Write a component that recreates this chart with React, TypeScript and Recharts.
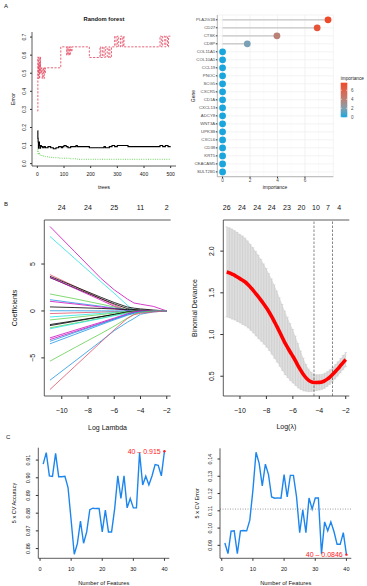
import React from "react";
import {
  LineChart,
  Line,
  XAxis,
  YAxis,
  ScatterChart,
  Scatter,
  ReferenceLine,
  CartesianGrid,
  ComposedChart,
  Area,
  ErrorBar,
  ReferenceDot,
} from "recharts";

const FONT = "'Liberation Sans', Arial, Helvetica, sans-serif";
const BOX = "#333";

// ---------------- Panel A (left): random forest error rates ----------------
const oobTrees = [1, 2, 3, 4, 5, 6, 7, 8, 10, 12, 15, 20, 25, 30, 40, 50, 60, 70, 80, 90, 95, 100, 108, 115, 125, 145, 150, 195, 250, 255, 270, 280, 290, 300, 340, 460, 470, 480, 490, 500];
const oobErr = [0.182, 0.14, 0.12, 0.085, 0.11, 0.1, 0.12, 0.1, 0.085, 0.1, 0.094, 0.088, 0.094, 0.088, 0.094, 0.088, 0.082, 0.088, 0.094, 0.088, 0.094, 0.1, 0.094, 0.088, 0.094, 0.1, 0.094, 0.088, 0.094, 0.088, 0.094, 0.1, 0.094, 0.1, 0.094, 0.1, 0.094, 0.1, 0.094, 0.094];
const class1Trees = [1, 2, 3, 4, 5, 6, 7, 8, 9, 10, 11, 12, 14, 16, 18, 20, 22, 24, 26, 28, 30, 88, 110, 112, 115, 118, 121, 124, 127, 130, 195, 235, 238, 245, 250, 255, 262, 268, 272, 278, 290, 295, 300, 305, 312, 318, 322, 325, 460, 465, 470, 478, 482, 488, 492, 500];
const class1Err = [0.29, 0.59, 0.47, 0.55, 0.5, 0.59, 0.53, 0.47, 0.56, 0.5, 0.59, 0.53, 0.5, 0.53, 0.47, 0.5, 0.53, 0.47, 0.53, 0.5, 0.53, 0.646, 0.6, 0.646, 0.6, 0.646, 0.6, 0.646, 0.62, 0.646, 0.587, 0.646, 0.587, 0.646, 0.587, 0.646, 0.587, 0.646, 0.587, 0.646, 0.705, 0.646, 0.705, 0.646, 0.705, 0.646, 0.705, 0.646, 0.705, 0.646, 0.705, 0.646, 0.705, 0.646, 0.705, 0.705];
const class2Trees = [1, 2, 3, 5, 8, 12, 20, 30, 45, 60, 80, 100, 120, 150, 500];
const class2Err = [0.067, 0.08, 0.05, 0.06, 0.048, 0.045, 0.042, 0.038, 0.035, 0.033, 0.03, 0.03, 0.027, 0.024, 0.024];
const rfXTicks = [0, 100, 200, 300, 400, 500];
const rfYTicks = [0, 0.1, 0.2, 0.3, 0.4, 0.5, 0.6, 0.7];

// ---------------- Panel A (right): gene importance ----------------
const genes = ["PLA2G1B", "CD27", "CTSK", "CD8P", "COL11A1", "COL10A1", "CCL19", "PNOC", "SCG5", "CXCR5", "CD1A", "CXCL13", "ADCY8", "WNT3A", "UPK3B", "CXCL6", "CD38", "KRT5", "CEACAM5", "SULT2B1"];
const importance = [7.68, 6.89, 3.96, 1.8, 0, 0, 0, 0, 0, 0, 0, 0, 0, 0, 0, 0, 0, 0, 0, 0];
const impTicks = [0, 2, 4, 6];
const impMinor = [1, 3, 5, 7];
const legendTicks = [6, 4, 2, 0];

// ---------------- Panel B (left): LASSO coefficient paths ----------------
const lassoLogLambda = [-10.9, -9, -7, -6, -5, -4.5, -4, -3, -2];
const coefPaths = [
  [9.0, 6.3, 3.45, 2.25, 1.27, 0.85, 0.72, 0.48, 0],
  [7.94, 5.58, 3.1, 1.88, 0.6, 0.05, 0, 0, 0],
  [3.87, 2.62, 1.3, 0.63, 0.05, 0, 0, 0, 0],
  [3.69, 2.6, 1.45, 0.9, 0.42, 0.3, 0.22, 0.1, 0],
  [3.55, 2.45, 1.3, 0.75, 0.25, 0.15, 0.1, 0.04, 0],
  [3.6, 2.4, 1.15, 0.5, 0.02, 0, 0, 0, 0],
  [1.81, 1.3, 0.72, 0.42, 0.12, 0.04, 0, 0, 0],
  [1.2, 0.85, 0.5, 0.3, 0.1, 0.02, 0, 0, 0],
  [1.03, 0.74, 0.42, 0.25, 0.06, 0, 0, 0, 0],
  [0.43, 0.36, 0.27, 0.21, 0.16, 0.12, 0.07, 0.03, 0],
  [-0.28, -0.2, -0.12, -0.07, -0.02, 0, 0, 0, 0],
  [0.02, 0.02, 0.01, 0.01, 0, 0, 0, 0, 0],
  [-0.64, -0.46, -0.26, -0.16, -0.06, -0.02, 0, 0, 0],
  [-0.96, -0.68, -0.38, -0.22, -0.06, 0, 0, 0, 0],
  [-1.45, -1.04, -0.6, -0.36, -0.13, -0.05, -0.02, 0, 0],
  [-1.56, -1.1, -0.62, -0.38, -0.1, -0.02, 0, 0, 0],
  [-1.8, -1.3, -0.76, -0.46, -0.16, -0.06, -0.02, 0, 0],
  [-1.9, -1.36, -0.8, -0.5, -0.25, -0.16, -0.1, -0.05, 0],
  [-2.87, -2.05, -1.2, -0.76, -0.3, -0.1, 0, 0, 0],
  [-3.05, -2.2, -1.3, -0.85, -0.36, -0.15, -0.03, 0, 0],
  [-3.23, -2.3, -1.36, -0.86, -0.4, -0.22, -0.1, -0.02, 0],
  [-3.5, -2.5, -1.46, -0.95, -0.46, -0.26, -0.15, -0.05, 0],
  [-5.35, -3.9, -2.4, -1.62, -0.76, -0.36, -0.15, 0, 0],
  [-7.38, -5.35, -3.2, -2.1, -1.2, -0.8, -0.35, -0.1, 0],
  [-8.37, -5.9, -3.3, -2.0, -0.8, -0.4, -0.25, -0.1, 0],
];
const pathColors = ["#CD0BBC", "#28E2E5", "#DF536B", "#000000", "#000000", "#CD0BBC", "#61D04F", "#2297E6", "#CD0BBC", "#000000", "#DF536B", "#2297E6", "#28E2E5", "#61D04F", "#000000", "#000000", "#61D04F", "#28E2E5", "#CD0BBC", "#CD0BBC", "#2297E6", "#2297E6", "#61D04F", "#2297E6", "#DF536B"];
const lassoTicks = [-10, -8, -6, -4, -2];
const lassoTopCounts = [24, 24, 25, 11, 2];
const coefTicks = [-5, 0, 5];

// ---------------- Panel B (right): CV binomial deviance ----------------
const devLogLambda = [-11.0, -10.8, -10.6, -10.4, -10.2, -10.0, -9.8, -9.6, -9.4, -9.2, -9.0, -8.8, -8.6, -8.4, -8.2, -8.0, -7.8, -7.6, -7.4, -7.2, -7.0, -6.8, -6.6, -6.4, -6.2, -6.0, -5.8, -5.6, -5.4, -5.2, -5.0, -4.8, -4.6, -4.4, -4.2, -4.0, -3.8, -3.6, -3.4, -3.2, -3.0, -2.8, -2.6, -2.4, -2.2, -2.0];
const devMean = [1.75, 1.74, 1.725, 1.71, 1.69, 1.67, 1.65, 1.63, 1.6, 1.565, 1.53, 1.49, 1.45, 1.41, 1.365, 1.32, 1.27, 1.215, 1.155, 1.095, 1.03, 0.965, 0.9, 0.845, 0.79, 0.74, 0.685, 0.625, 0.57, 0.52, 0.48, 0.45, 0.432, 0.425, 0.424, 0.426, 0.432, 0.445, 0.465, 0.49, 0.52, 0.553, 0.588, 0.626, 0.664, 0.7];
const devSE = [0.54, 0.54, 0.54, 0.535, 0.535, 0.53, 0.53, 0.525, 0.52, 0.515, 0.51, 0.505, 0.5, 0.49, 0.48, 0.47, 0.46, 0.45, 0.44, 0.425, 0.41, 0.395, 0.38, 0.36, 0.34, 0.32, 0.295, 0.265, 0.23, 0.195, 0.16, 0.135, 0.115, 0.1, 0.095, 0.092, 0.09, 0.09, 0.088, 0.087, 0.086, 0.085, 0.085, 0.085, 0.085, 0.085];
const devTopPos = [-11.0, -9.85, -8.7, -7.6, -6.45, -5.35, -4.25, -3.35, -2.5];
const devTopLabels = [26, 24, 24, 24, 23, 20, 10, 7, 4];
const lambdaMin = -4.4;
const lambda1se = -3.0;
const devYTicks = [0.5, 1.0, 1.5, 2.0];

// ---------------- Panel C: feature selection CV ----------------
const nFeatures = [1, 2, 3, 4, 5, 6, 7, 8, 9, 10, 11, 12, 13, 14, 15, 16, 17, 18, 19, 20, 21, 22, 23, 24, 25, 26, 27, 28, 29, 30, 31, 32, 33, 34, 35, 36, 37, 38, 39, 40];
const cvAccuracy = [0.9077, 0.9142, 0.9011, 0.9008, 0.9138, 0.9006, 0.9006, 0.9009, 0.8945, 0.876, 0.8568, 0.8628, 0.8755, 0.863, 0.8694, 0.882, 0.8828, 0.8826, 0.8826, 0.8694, 0.8817, 0.8694, 0.8694, 0.8826, 0.9011, 0.8883, 0.9011, 0.883, 0.8883, 0.883, 0.883, 0.9142, 0.8959, 0.9009, 0.896, 0.901, 0.9075, 0.907, 0.9011, 0.915];
const cvError = [0.0914, 0.0852, 0.0982, 0.0984, 0.0852, 0.0984, 0.0986, 0.0984, 0.1046, 0.122, 0.1439, 0.1375, 0.1244, 0.137, 0.131, 0.118, 0.1173, 0.1175, 0.1173, 0.131, 0.118, 0.1305, 0.1305, 0.118, 0.0974, 0.1106, 0.0974, 0.1174, 0.111, 0.1174, 0.1174, 0.0852, 0.1036, 0.0984, 0.1036, 0.098, 0.0906, 0.0906, 0.0974, 0.0846];
const bestAcc = { n: 40, value: 0.915 };
const bestErr = { n: 40, value: 0.0846 };
const errRefLine = 0.111;
const featTicks = [0, 10, 20, 30, 40];
const accTicks = [0.86, 0.87, 0.88, 0.89, 0.9, 0.91];
const errTicks = [0.09, 0.1, 0.11, 0.12, 0.13, 0.14];

// ---------------- helpers ----------------
const fmtNum = (d: number) => (v: number) => (v < 0 ? "\u2212" : "") + Math.abs(v).toFixed(d);

const RotYTick = (props: any) => {
  const { x, y, payload, fs, fmt, color } = props;
  return (
    <text x={x} y={y} transform={`rotate(-90 ${x} ${y})`} textAnchor="middle" fontSize={fs} fontFamily={FONT} fill={color || "#111"}>
      {fmt ? fmt(payload.value) : payload.value}
    </text>
  );
};

const impStops = [
  [0, [26, 166, 221]],
  [0.25, [127, 160, 178]],
  [0.5, [184, 131, 121]],
  [0.75, [219, 101, 80]],
  [1, [238, 74, 42]],
] as [number, number[]][];
const impMax = 7.68;
const impColor = (v: number) => {
  const t = Math.max(0, Math.min(1, v / impMax));
  for (let i = 0; i < impStops.length - 1; i++) {
    const [t0, c0] = impStops[i];
    const [t1, c1] = impStops[i + 1];
    if (t <= t1) {
      const f = (t - t0) / (t1 - t0);
      const c = c0.map((a, k) => Math.round(a + (c1[k] - a) * f));
      return `rgb(${c[0]},${c[1]},${c[2]})`;
    }
  }
  return "rgb(238,74,42)";
};

const boxAxes = (xdom: number[], withTop = true) => [
  withTop ? (
    <XAxis key="bt" xAxisId="top" orientation="top" type="number" domain={xdom} allowDataOverflow height={0} tick={false} tickLine={false} axisLine={{ stroke: BOX, strokeWidth: 0.8 }} />
  ) : null,
  <YAxis key="br" yAxisId="right" orientation="right" type="number" domain={[0, 1]} width={0} tick={false} tickLine={false} axisLine={{ stroke: BOX, strokeWidth: 0.8 }} />,
];

// ---------------- data tables ----------------
const oobData = oobTrees.map((t, i) => ({ x: t, y: oobErr[i] }));
const c1Data = class1Trees.map((t, i) => ({ x: t, y: class1Err[i] }));
const c2Data = class2Trees.map((t, i) => ({ x: t, y: class2Err[i] }));
const impData = genes.map((g, i) => ({ gene: g, rank: i + 1, importance: importance[i] }));
const lassoData = lassoLogLambda.map((l, j) => {
  const row: any = { x: l };
  coefPaths.forEach((p, k) => (row["p" + k] = p[j]));
  return row;
});
const devData = devLogLambda.map((l, i) => ({ x: l, mean: devMean[i], se: devSE[i], band: [devMean[i] - devSE[i], devMean[i] + devSE[i]] }));
const accData = nFeatures.map((n, i) => ({ n, v: cvAccuracy[i] }));
const errData = nFeatures.map((n, i) => ({ n, v: cvError[i] }));

const T = (p: { x: number; y: number; s: number; rot?: boolean; bold?: boolean; anchor?: string; fill?: string; children: any }) => (
  <text
    x={p.x}
    y={p.y}
    fontSize={p.s}
    fontFamily={FONT}
    fontWeight={p.bold ? "bold" : "normal"}
    textAnchor={(p.anchor as any) || "middle"}
    fill={p.fill || "#111"}
    transform={p.rot ? `rotate(-90 ${p.x} ${p.y})` : undefined}
  >
    {p.children}
  </text>
);

export default function App() {
  const rfDom = [-20, 520];
  const lassoDom = [-11.33, -1.7];
  const devDom = [-11.26, -1.73];
  const featDom = [-0.56, 41.56];
  return (
    <div style={{ position: "absolute", left: 0, top: 0, width: 367, height: 586, background: "#fff", overflow: "hidden" }}>
      {/* A left */}
      <div style={{ position: "absolute", left: 0, top: 0 }}>
        <LineChart width={185} height={190} margin={{ top: 32, right: 9, bottom: 0, left: 0 }}>
          <XAxis type="number" dataKey="x" domain={rfDom} allowDataOverflow ticks={rfXTicks} interval={0} height={24} tickSize={2} tickMargin={4.5} stroke={BOX} axisLine={{ stroke: BOX, strokeWidth: 0.8 }} tick={{ fontSize: 5, fill: "#111", fontFamily: FONT }} />
          <YAxis type="number" domain={[-0.013, 0.728]} allowDataOverflow ticks={rfYTicks} interval={0} width={32} tickSize={2} tickMargin={3.9} stroke={BOX} axisLine={{ stroke: BOX, strokeWidth: 0.8 }} tick={<RotYTick fs={5} fmt={fmtNum(1)} />} />
          {boxAxes(rfDom)}
          <Line data={c2Data} dataKey="y" type="stepAfter" stroke="#61D04F" strokeWidth={0.9} strokeDasharray="1 1.3" dot={false} isAnimationActive={false} />
          <Line data={c1Data} dataKey="y" type="stepAfter" stroke="#E5536A" strokeWidth={0.9} strokeDasharray="2.2 1.4" dot={false} isAnimationActive={false} />
          <Line data={oobData} dataKey="y" type="stepAfter" stroke="#000" strokeWidth={1.1} dot={false} isAnimationActive={false} />
        </LineChart>
      </div>

      {/* A right */}
      <div style={{ position: "absolute", left: 185, top: 0 }}>
        <ScatterChart width={182} height={190} margin={{ top: 15, right: 33.7, bottom: 0, left: 0 }}>
          <CartesianGrid stroke="#ebebeb" strokeWidth={0.6} />
          {impMinor.map((m) => (
            <ReferenceLine key={"m" + m} x={m} stroke="#f4f4f4" strokeWidth={0.4} />
          ))}
          <XAxis type="number" dataKey="importance" domain={[-0.384, 8.064]} allowDataOverflow ticks={impTicks} interval={0} height={13.3} tickSize={1.5} tickMargin={0.8} stroke="#333" axisLine={{ stroke: "#8a8a8a", strokeWidth: 0.6 }} tick={{ fontSize: 4.7, fill: "#4d4d4d", fontFamily: FONT }} />
          <YAxis type="number" dataKey="rank" domain={[0.4, 20.6]} reversed allowDataOverflow ticks={impData.map((d) => d.rank)} interval={0} width={32.3} tickSize={1.5} tickMargin={0.6} stroke="#333" axisLine={{ stroke: "#8a8a8a", strokeWidth: 0.6 }} tickFormatter={(v: number) => genes[v - 1]} tick={{ fontSize: 4.3, fill: "#4d4d4d", fontFamily: FONT }} />
          <XAxis xAxisId="top" orientation="top" type="number" domain={[0, 1]} height={0} tick={false} tickLine={false} axisLine={{ stroke: "#8a8a8a", strokeWidth: 0.6 }} />
          <YAxis yAxisId="right" orientation="right" type="number" domain={[0, 1]} width={0} tick={false} tickLine={false} axisLine={{ stroke: "#8a8a8a", strokeWidth: 0.6 }} />
          {impData
            .filter((d) => d.importance > 0)
            .map((d) => (
              <ReferenceLine key={"s" + d.gene} segment={[{ x: 0, y: d.rank }, { x: d.importance, y: d.rank }]} stroke="#c6c6c6" strokeWidth={1.3} />
            ))}
          <Scatter
            data={impData}
            isAnimationActive={false}
            shape={(p: any) => <circle cx={p.cx} cy={p.cy} r={3.4} fill={impColor(p.payload.importance)} />}
          />
        </ScatterChart>
      </div>

      {/* B left */}
      <div style={{ position: "absolute", left: 0, top: 190 }}>
        <LineChart width={185} height={245} data={lassoData} margin={{ top: 0, right: 14.3, bottom: 0, left: 0 }}>
          <XAxis type="number" dataKey="x" domain={lassoDom} allowDataOverflow ticks={lassoTicks} interval={0} height={39} tickSize={3} tickMargin={9} stroke={BOX} axisLine={{ stroke: BOX, strokeWidth: 0.8 }} tickFormatter={fmtNum(0)} tick={{ fontSize: 7, fill: "#111", fontFamily: FONT }} />
          <XAxis xAxisId="top" dataKey="x" orientation="top" type="number" domain={lassoDom} allowDataOverflow ticks={lassoTicks} interval={0} height={30} tickSize={0} tickLine={false} tickMargin={9.8} axisLine={{ stroke: BOX, strokeWidth: 0.8 }} tickFormatter={(v: number, i: number) => String(lassoTopCounts[i])} tick={{ fontSize: 7, fill: "#111", fontFamily: FONT }} />
          <YAxis type="number" domain={[-9.06, 9.69]} allowDataOverflow ticks={coefTicks} interval={0} width={44.3} tickSize={3} tickMargin={6.3} stroke={BOX} axisLine={{ stroke: BOX, strokeWidth: 0.8 }} tick={<RotYTick fs={7} fmt={fmtNum(0)} />} />
          {boxAxes(lassoDom, false)}
          <Line xAxisId="top" dataKey="p0" stroke="none" dot={false} isAnimationActive={false} />
          {coefPaths.map((_, k) => (
            <Line key={k} dataKey={"p" + k} type="linear" stroke={pathColors[k]} strokeWidth={0.8} dot={false} isAnimationActive={false} />
          ))}
        </LineChart>
      </div>

      {/* B right */}
      <div style={{ position: "absolute", left: 185, top: 190 }}>
        <ComposedChart width={182} height={245} data={devData} margin={{ top: 0, right: 17.7, bottom: 0, left: 0 }}>
          <XAxis type="number" dataKey="x" domain={devDom} allowDataOverflow ticks={lassoTicks} interval={0} height={39} tickSize={3} tickMargin={9} stroke={BOX} axisLine={{ stroke: BOX, strokeWidth: 0.8 }} tickFormatter={fmtNum(0)} tick={{ fontSize: 7, fill: "#111", fontFamily: FONT }} />
          <XAxis xAxisId="top" dataKey="x" orientation="top" type="number" domain={devDom} allowDataOverflow ticks={devTopPos} interval={0} height={30} tickSize={0} tickLine={false} tickMargin={9.8} axisLine={{ stroke: BOX, strokeWidth: 0.8 }} tickFormatter={(v: number, i: number) => String(devTopLabels[i])} tick={{ fontSize: 7, fill: "#111", fontFamily: FONT }} />
          <YAxis type="number" domain={[0.263, 2.373]} allowDataOverflow ticks={devYTicks} interval={0} width={38.3} tickSize={3} tickMargin={6.3} stroke={BOX} axisLine={{ stroke: BOX, strokeWidth: 0.8 }} tick={<RotYTick fs={7} fmt={fmtNum(1)} />} />
          <YAxis yAxisId="right" orientation="right" type="number" domain={[0, 1]} width={0} tick={false} tickLine={false} axisLine={{ stroke: BOX, strokeWidth: 0.8 }} />
          <Line xAxisId="top" dataKey="mean" stroke="none" dot={false} isAnimationActive={false} />
          <Area dataKey="band" type="linear" stroke="none" fill="#dedede" fillOpacity={1} isAnimationActive={false} />
          <Line dataKey="mean" stroke="none" dot={false} isAnimationActive={false}>
            <ErrorBar dataKey="se" direction="y" width={1.2} stroke="#c4c4c4" strokeWidth={0.5} isAnimationActive={false} />
          </Line>
          <ReferenceLine x={lambdaMin} stroke="#555" strokeWidth={0.7} strokeDasharray="2.5 1.5" />
          <ReferenceLine x={lambda1se} stroke="#555" strokeWidth={0.7} strokeDasharray="2.5 1.5" />
          <Line dataKey="mean" type="monotone" stroke="#ff0000" strokeWidth={3.6} dot={false} isAnimationActive={false} />
        </ComposedChart>
      </div>

      {/* C left */}
      <div style={{ position: "absolute", left: 0, top: 430 }}>
        <LineChart width={185} height={156} data={accData} margin={{ top: 17.7, right: 15.7, bottom: 0, left: 0 }}>
          <XAxis type="number" dataKey="n" domain={featDom} allowDataOverflow ticks={featTicks} interval={0} height={27.7} tickSize={2.5} tickMargin={6.3} stroke={BOX} axisLine={{ stroke: BOX, strokeWidth: 0.8 }} tick={{ fontSize: 5.5, fill: "#111", fontFamily: FONT }} />
          <YAxis type="number" domain={[0.8545, 0.917]} allowDataOverflow ticks={accTicks} interval={0} width={38.3} tickSize={2.5} tickMargin={6.2} stroke={BOX} axisLine={{ stroke: BOX, strokeWidth: 0.8 }} tick={<RotYTick fs={5.5} fmt={fmtNum(2)} />} />
          {boxAxes(featDom)}
          <Line dataKey="v" type="linear" stroke="#1C86EE" strokeWidth={1.4} dot={false} isAnimationActive={false} />
          <ReferenceDot x={bestAcc.n} y={bestAcc.value} r={1.2} fill="#ff2020" stroke="none" label={{ value: `${bestAcc.n} \u2013 ${bestAcc.value}`, position: "left", fill: "#ff2020", fontSize: 7, fontFamily: FONT, offset: 2.5 }} />
        </LineChart>
      </div>

      {/* C right */}
      <div style={{ position: "absolute", left: 185, top: 430 }}>
        <LineChart width={182} height={156} data={errData} margin={{ top: 18.3, right: 15.7, bottom: 0, left: 0 }}>
          <XAxis type="number" dataKey="n" domain={featDom} allowDataOverflow ticks={featTicks} interval={0} height={27.7} tickSize={2.5} tickMargin={6.3} stroke={BOX} axisLine={{ stroke: BOX, strokeWidth: 0.8 }} tick={{ fontSize: 5.5, fill: "#111", fontFamily: FONT }} />
          <YAxis type="number" domain={[0.0825, 0.1462]} allowDataOverflow ticks={errTicks} interval={0} width={35} tickSize={2.5} tickMargin={5.8} stroke={BOX} axisLine={{ stroke: BOX, strokeWidth: 0.8 }} tick={<RotYTick fs={5.5} fmt={fmtNum(2)} />} />
          {boxAxes(featDom)}
          <ReferenceLine y={errRefLine} stroke="#777" strokeWidth={0.7} strokeDasharray="1 1.5" />
          <Line dataKey="v" type="linear" stroke="#1C86EE" strokeWidth={1.4} dot={false} isAnimationActive={false} />
          <ReferenceDot x={bestErr.n} y={bestErr.value} r={1.2} fill="#ff2020" stroke="none" label={{ value: `${bestErr.n} \u2013 ${bestErr.value}`, position: "left", fill: "#ff2020", fontSize: 7, fontFamily: FONT, offset: 2.5 }} />
        </LineChart>
      </div>

      {/* text overlay + legend */}
      <svg width={367} height={586} style={{ position: "absolute", left: 0, top: 0, pointerEvents: "none" }}>
        <defs>
          <linearGradient id="impGrad" x1="0" y1="1" x2="0" y2="0">
            {impStops.map(([t, c]) => (
              <stop key={t} offset={t} stopColor={`rgb(${c[0]},${c[1]},${c[2]})`} />
            ))}
          </linearGradient>
        </defs>
        <T x={4} y={7.5} s={6} anchor="start">A</T>
        <T x={4} y={205.5} s={6} anchor="start">B</T>
        <T x={6} y={439} s={6} anchor="start">C</T>

        <T x={104} y={21} s={5.8} bold>Random forest</T>
        <T x={15.3} y={99} s={5.5} rot>Error</T>
        <T x={104} y={189} s={5.5}>trees</T>

        <T x={195} y={96} s={5} rot fill="#222">Gene</T>
        <T x={275} y={189.3} s={5} fill="#222">importance</T>

        <T x={340.7} y={80} s={4.7} anchor="start" fill="#222">importance</T>
        <rect x={340.7} y={82.7} width={6.6} height={34.6} fill="url(#impGrad)" />
        {legendTicks.map((v) => {
          const yy = 117.3 - (v / impMax) * 34.6;
          return (
            <g key={v}>
              <line x1={340.7} x2={342} y1={yy} y2={yy} stroke="#fff" strokeWidth={0.5} />
              <line x1={346} x2={347.3} y1={yy} y2={yy} stroke="#fff" strokeWidth={0.5} />
              <T x={351} y={yy + 1.6} s={4.5} anchor="start" fill="#4d4d4d">{String(v)}</T>
            </g>
          );
        })}

        <T x={16.5} y={308} s={7} rot>Coefficients</T>
        <T x={107.5} y={430.2} s={7}>Log Lambda</T>
        <T x={196.5} y={308} s={7} rot>Binomial Deviance</T>
        <T x={286.3} y={428.5} s={7}>{"Log(\u03bb)"}</T>

        <T x={16} y={503} s={5.5} rot>5 x CV Accuracy</T>
        <T x={198.7} y={503.3} s={5.5} rot>5 x CV Error</T>
        <T x={103.8} y={584.6} s={5.75}>Number of Features</T>
        <T x={285.7} y={584.6} s={5.75}>Number of Features</T>
      </svg>
    </div>
  );
}
